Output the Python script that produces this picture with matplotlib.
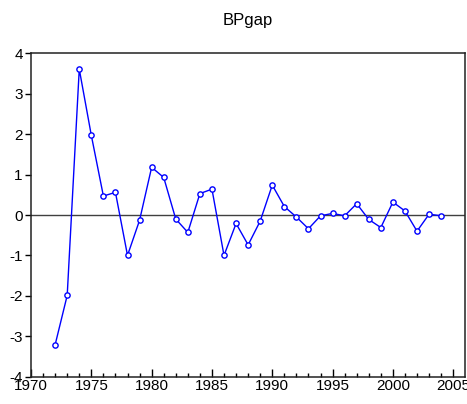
import matplotlib
matplotlib.use('Agg')
import matplotlib.pyplot as plt
from matplotlib.ticker import MultipleLocator

# BPgap series, 1972-2004
years = list(range(1972, 2005))
bpgap = [-3.21, -1.99, 3.61, 1.97, 0.47, 0.56, -1.00, -0.13, 1.18, 0.93,
         -0.10, -0.43, 0.53, 0.64, -1.00, -0.21, -0.74, -0.15, 0.74, 0.21,
         -0.05, -0.34, -0.02, 0.04, -0.02, 0.28, -0.11, -0.31, 0.32, 0.10,
         -0.40, 0.02, -0.02]
x_ticks = [1970, 1975, 1980, 1985, 1990, 1995, 2000, 2005]
y_ticks = [-4, -3, -2, -1, 0, 1, 2, 3, 4]

plt.rcParams['font.family'] = ['Liberation Sans', 'DejaVu Sans']
plt.rcParams['axes.unicode_minus'] = False

fig = plt.figure(figsize=(4.67, 4.04), dpi=100)
ax = fig.add_axes([0.0664, 0.0676, 0.9286, 0.8004])

ax.axhline(0, color='#404040', linewidth=1.0, zorder=1)
ax.plot(years, bpgap, color='#0000ff', linewidth=1.0, marker='o', markersize=3.8,
        markerfacecolor='white', markeredgecolor='#0000ff', markeredgewidth=1.0, zorder=2)

ax.set_xlim(1970, 2005.95)
ax.set_ylim(-4, 4)
ax.set_xticks(x_ticks)
ax.xaxis.set_minor_locator(MultipleLocator(1))
ax.set_yticks(y_ticks)
ax.tick_params(axis='x', which='major', direction='in', length=6, width=1, labelsize=11, pad=2)
ax.tick_params(axis='x', which='minor', direction='in', length=3, width=1)
ax.tick_params(axis='y', which='major', direction='out', length=4, width=1, labelsize=11, pad=2)
ax.tick_params(top=False, right=False)
for s in ax.spines.values():
    s.set_linewidth(1.1)
    s.set_color('#222222')

fig.text(0.531, 0.95, 'BPgap', ha='center', va='center', fontsize=12)

plt.savefig('out.png', dpi=100)
